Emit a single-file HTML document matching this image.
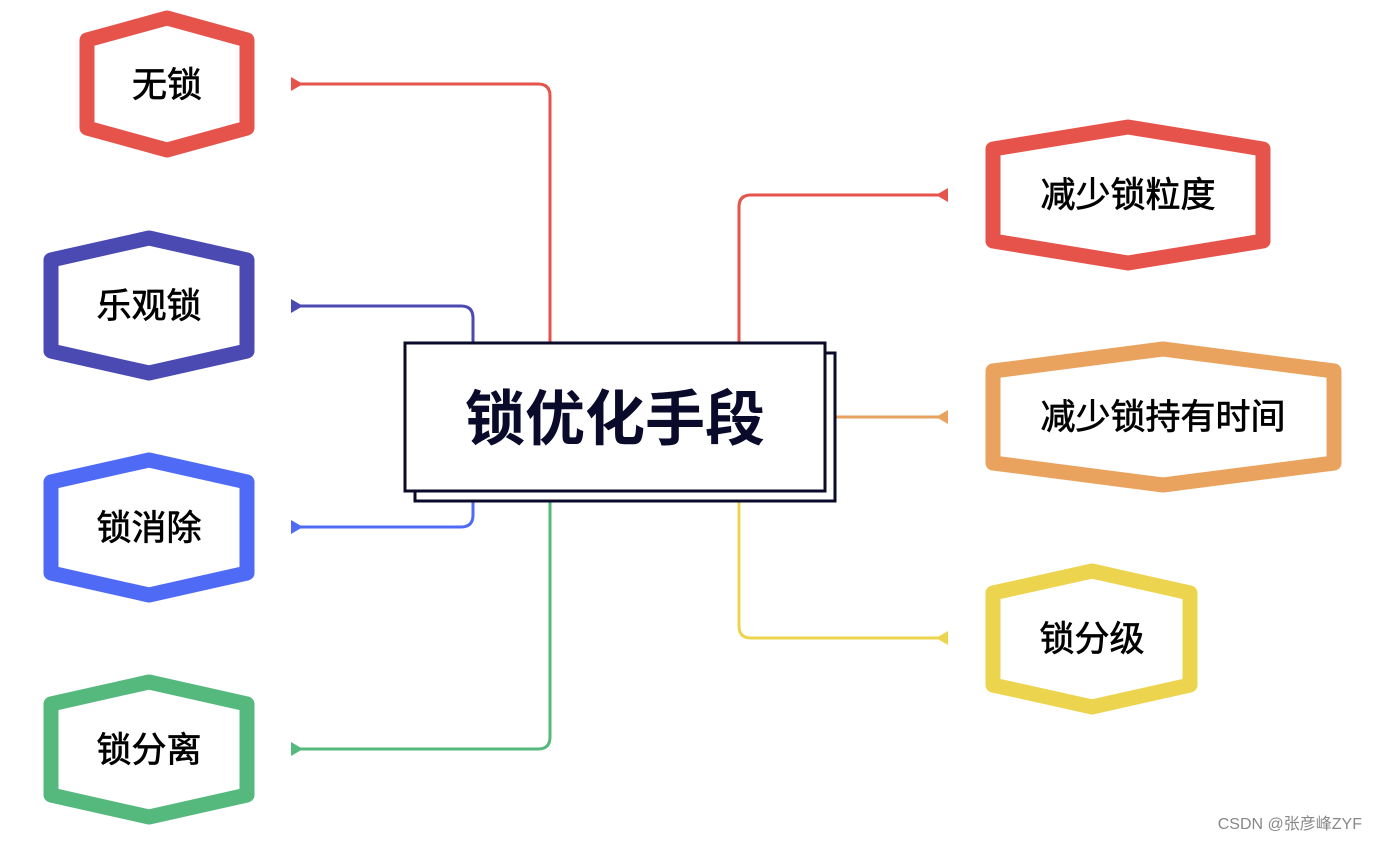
<!DOCTYPE html>
<html><head><meta charset="utf-8"><style>
html,body{margin:0;padding:0;background:#fff;}
svg{display:block;}
text{font-family:"Liberation Sans","Noto Sans CJK SC",sans-serif;}
</style></head><body>
<svg width="1377" height="841" viewBox="0 0 1377 841" xmlns="http://www.w3.org/2000/svg">
<g fill="none" stroke-width="3">
<path d="M550 342 V96 Q550 84 538 84 H300" stroke="#e5534b"/>
<path d="M473 342 V318 Q473 306 461 306 H300" stroke="#4b4ab3"/>
<path d="M473 492 V515 Q473 527 461 527 H300" stroke="#4f6af5"/>
<path d="M550 492 V737 Q550 749 538 749 H300" stroke="#55b97d"/>
<path d="M739 342 V207 Q739 195 751 195 H940" stroke="#e5534b"/>
<path d="M836 417 H940" stroke="#eaa35e"/>
<path d="M739 492 V626 Q739 638 751 638 H940" stroke="#ecd44f"/>
</g>
<g>
<polygon points="291,77 303,84 291,91" fill="#e5534b"/>
<polygon points="291,299 303,306 291,313" fill="#4b4ab3"/>
<polygon points="291,520 303,527 291,534" fill="#4f6af5"/>
<polygon points="291,742 303,749 291,756" fill="#55b97d"/>
<polygon points="948,188 936,195 948,202" fill="#e5534b"/>
<polygon points="948,410 936,417 948,424" fill="#eaa35e"/>
<polygon points="948,631 936,638 948,645" fill="#ecd44f"/>
</g>
<g fill="#fff" stroke-width="15" stroke-linejoin="round">
<polygon points="87,40 167,18 247,40 247,128 167,150 87,128" stroke="#e5534b"/>
<polygon points="51,260 149,238 247,260 247,351 149,373 51,351" stroke="#4b4ab3"/>
<polygon points="51,482 149,460 247,482 247,573 149,595 51,573" stroke="#4f6af5"/>
<polygon points="51,704 149,682 247,704 247,795 149,817 51,795" stroke="#55b97d"/>
<polygon points="993,149 1128,127 1263,149 1263,241 1128,263 993,241" stroke="#e5534b"/>
<polygon points="993,371 1163,349 1334,371 1334,463 1163,485 993,463" stroke="#eaa35e"/>
<polygon points="993,593 1092,571 1190,593 1190,685 1092,707 993,685" stroke="#ecd44f"/>
</g>
<g font-size="35" fill="#000" stroke="#000" stroke-width="0.7" text-anchor="middle">
<text x="167" y="97">无锁</text>
<text x="149" y="318">乐观锁</text>
<text x="149" y="540">锁消除</text>
<text x="149" y="762">锁分离</text>
<text x="1128" y="207">减少锁粒度</text>
<text x="1163" y="429">减少锁持有时间</text>
<text x="1092" y="651">锁分级</text>
</g>
<rect x="415" y="353" width="420" height="148" fill="#fff" stroke="#0a0a2a" stroke-width="3"/>
<rect x="405" y="343" width="420" height="148" fill="#fff" stroke="#0a0a2a" stroke-width="3"/>
<text x="615" y="440" font-size="60" font-weight="bold" fill="#0a0a2a" text-anchor="middle">锁优化手段</text>
<text x="1362" y="829" font-size="16" fill="#888" text-anchor="end">CSDN @张彦峰ZYF</text>
</svg>
</body></html>
